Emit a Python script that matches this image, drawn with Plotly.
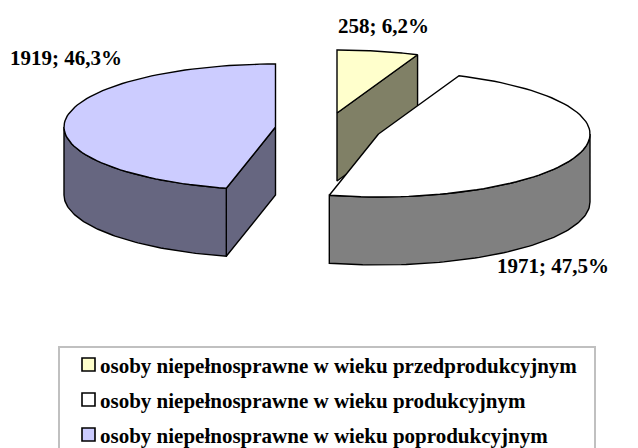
import numpy as np
import plotly.graph_objects as go

# Data
categories = ["osoby niepełnosprawne w wieku przedprodukcyjnym",
              "osoby niepełnosprawne w wieku produkcyjnym",
              "osoby niepełnosprawne w wieku poprodukcyjnym"]
values = [258, 1971, 1919]
labels = ["258; 6,2%", "1971; 47,5%", "1919; 46,3%"]
top_colors = ["#FFFFCC", "#FFFFFF", "#CCCCFF"]
wall_colors = ["#808066", "#808080", "#666680"]

# Projection of the exploded 3-D pie (screen pixels)
apex_x = [337, 378.5, 275.5]
apex_y = [113, 134, 127]
RX, RY, DEPTH = 211.5, 63, 68

total = sum(values)
ends = np.cumsum(values) / total * 2 * np.pi
starts = np.concatenate([[0], ends[:-1]])


def rim(cx, cy, a0, a1, n=80):
    t = np.linspace(a0, a1, n)
    return cx + RX * np.sin(t), cy - RY * np.cos(t)


fig = go.Figure()


def poly(x, y, fill):
    fig.add_trace(go.Scatter(
        x=list(x) + [x[0]], y=list(y) + [y[0]], mode="lines", fill="toself",
        fillcolor=fill, line=dict(color="black", width=1.4),
        showlegend=False, hoverinfo="skip"))


def edge_wall(cx, cy, a, fill):
    x = cx + RX * np.sin(a)
    y = cy - RY * np.cos(a)
    poly([cx, x, x, cx], [cy, y, y + DEPTH, cy + DEPTH], fill)


def outer_wall(cx, cy, a0, a1, fill):
    x, y = rim(cx, cy, a0, a1)
    poly(np.r_[x, x[::-1]], np.r_[y, y[::-1] + DEPTH], fill)


def top(i):
    x, y = rim(apex_x[i], apex_y[i], starts[i], ends[i])
    poly(np.r_[apex_x[i], x], np.r_[apex_y[i], y], top_colors[i])


# Back-to-front drawing order
edge_wall(apex_x[0], apex_y[0], ends[0], wall_colors[0])
top(0)
outer_wall(apex_x[1], apex_y[1], max(starts[1], np.pi / 2), ends[1], wall_colors[1])
top(1)
edge_wall(apex_x[2], apex_y[2], starts[2], wall_colors[2])
outer_wall(apex_x[2], apex_y[2], starts[2], 3 * np.pi / 2, wall_colors[2])
top(2)

font = dict(family="Liberation Serif", size=21, color="black")
lab_xy = [(383, 26), (553, 266), (66, 58)]
for t, (lx, ly) in zip(labels, lab_xy):
    fig.add_annotation(x=lx, y=ly, text=f"<b>{t}</b>", showarrow=False, font=font)

# Legend box (runs off the bottom of the picture, as in the reference)
fig.add_shape(type="rect", x0=59, x1=595, y0=347, y1=470,
              line=dict(color="#C0C0C0", width=2), fillcolor="white", layer="below")
leg_y = [364.5, 399.5, 434.5]
fig.add_trace(go.Scatter(
    x=[88.5] * 3, y=leg_y, mode="markers", showlegend=False, hoverinfo="skip",
    marker=dict(symbol="square", size=13, color=top_colors,
                line=dict(color="black", width=1.6))))
for c, ly in zip(categories, leg_y):
    fig.add_annotation(x=98, y=ly + 1.5, text=f"<b>{c}</b>", showarrow=False,
                       xanchor="left", font=font)

# The page body has an 8 px margin, so the plot starts at (8, 8)
fig.update_layout(
    width=630, height=440, margin=dict(l=0, r=0, t=0, b=0),
    paper_bgcolor="white", plot_bgcolor="white",
    xaxis=dict(range=[8, 638], visible=False, fixedrange=True),
    yaxis=dict(range=[448, 8], visible=False, fixedrange=True),
)
fig.write_html("out.html")
